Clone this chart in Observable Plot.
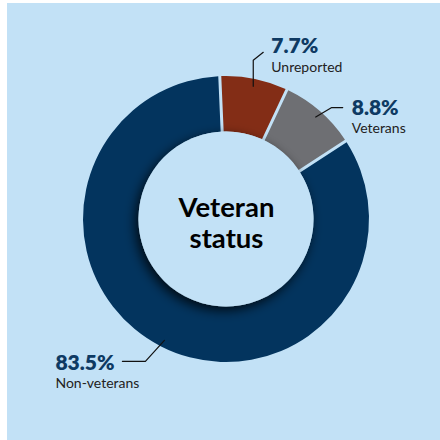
<!DOCTYPE html>
<html><head><meta charset="utf-8">
<script src="https://cdn.jsdelivr.net/npm/d3@7"></script>
<script src="https://cdn.jsdelivr.net/npm/@observablehq/plot@0.6"></script>
<style>
html,body{margin:0;padding:0;background:#fff;}
#panel{position:absolute;left:7px;top:3px;width:433px;height:437px;background:#C2E1F6;overflow:hidden;}
#panel svg{display:block;}
</style></head><body><div id="panel"></div>
<script>
// ---- data ----
const categories = ["Unreported", "Veterans", "Non-veterans"];
const shares = [7.7, 8.8, 83.5];
const valueLabels = ["7.7%", "8.8%", "83.5%"];
const colors = ["#832D16", "#6E6F73", "#03345E"];
const titleLines = ["Veteran", "status"];

// ---- layout ----
const BG = "#C2E1F6";
const RPX = 143;            // outer radius in px (1 unit)
const INNER = 0.612;        // inner / outer radius
const START_DEG = -2.5;
const LEADER_R = 0.95;
const FONT = "Lato, 'Open Sans', 'DejaVu Sans', sans-serif";
// pixel offsets (x right, y down) for leader elbows/ends and label text
const layout = {
  "Unreported":   {elbow: [0, -26],  end: [10, -34], pct: [8, 1],    cat: [8, 20]},
  "Veterans":     {elbow: [16, -9.5], end: [27, -9.5], pct: [9, 7],  cat: [9, 25]},
  "Non-veterans": {elbow: [-19, 21], end: [-42, 21], pct: [-67, 9], cat: [-67, 27]}
};

const rows = categories.map((c, i) => ({category: c, share: shares[i], label: valueLabels[i], color: colors[i]}));
const start = START_DEG * Math.PI / 180;
const arcs = d3.pie().sort(null).value(d => d.share).startAngle(start).endAngle(start + 2 * Math.PI)(rows);

const u = (p) => p / RPX;
const leaderPts = [];
const pctRows = [], catRows = [];
arcs.forEach(a => {
  const m = (a.startAngle + a.endAngle) / 2;
  const x0 = LEADER_R * Math.sin(m), y0 = LEADER_R * Math.cos(m);
  const L = layout[a.data.category];
  const pts = [[0, 0], L.elbow, L.end];
  pts.forEach(([dx, dy]) => leaderPts.push({category: a.data.category, x: x0 + u(dx), y: y0 - u(dy)}));
  const ex = x0 + u(L.end[0]), ey = y0 - u(L.end[1]);
  pctRows.push({text: a.data.label, x: ex + u(L.pct[0]), y: ey - u(L.pct[1])});
  catRows.push({text: a.data.category, x: ex + u(L.cat[0]), y: ey - u(L.cat[1])});
});

function donut(index, scales, values, dimensions, context) {
  const ns = "http://www.w3.org/2000/svg";
  const g = document.createElementNS(ns, "g");
  const cx = scales.x(0), cy = scales.y(0);
  const R = scales.x(1) - cx;
  const arcGen = d3.arc().innerRadius(R * INNER).outerRadius(R).padAngle(0.021).padRadius(R);
  const sel = d3.select(g);
  const defs = sel.append("defs");
  const f = defs.append("filter").attr("id", "innerShadow").attr("x", "-30%").attr("y", "-30%").attr("width", "160%").attr("height", "160%");
  f.append("feDropShadow").attr("dx", -3).attr("dy", 4).attr("stdDeviation", 6).attr("flood-color", "#000").attr("flood-opacity", 0.8);
  sel.append("g").attr("transform", `translate(${cx},${cy})`)
    .selectAll("path").data(arcs).join("path")
    .attr("d", arcGen).attr("fill", d => d.data.color);
  sel.append("circle").attr("cx", cx).attr("cy", cy).attr("r", R * INNER)
    .attr("fill", BG).attr("filter", "url(#innerShadow)");
  return g;
}

const chart = Plot.plot({
  width: 433, height: 437, margin: 0,
  style: {background: "transparent", fontFamily: FONT},
  x: {domain: [-1, 1], range: [219 - RPX, 219 + RPX], axis: null},
  y: {domain: [-1, 1], range: [216 + RPX, 216 - RPX], axis: null},
  marks: [
    donut,
    Plot.line(leaderPts, {x: "x", y: "y", z: "category", stroke: "#111", strokeWidth: 1.2}),
    Plot.text(pctRows, {x: "x", y: "y", text: "text", textAnchor: "start", lineAnchor: "bottom",
      fontSize: 21, fontWeight: 800, fill: "#0E3A63", fontFamily: FONT}),
    Plot.text(catRows, {x: "x", y: "y", text: "text", textAnchor: "start", lineAnchor: "bottom",
      fontSize: 14, fontWeight: 400, fill: "#222", fontFamily: FONT}),
    Plot.text([titleLines.join("\n")], {x: () => 0, y: () => 0, text: d => d, dy: 3,
      fontSize: 27.5, fontWeight: 700, fill: "#000", lineHeight: 1.12, fontFamily: FONT})
  ]
});
document.getElementById("panel").appendChild(chart);
</script></body></html>
